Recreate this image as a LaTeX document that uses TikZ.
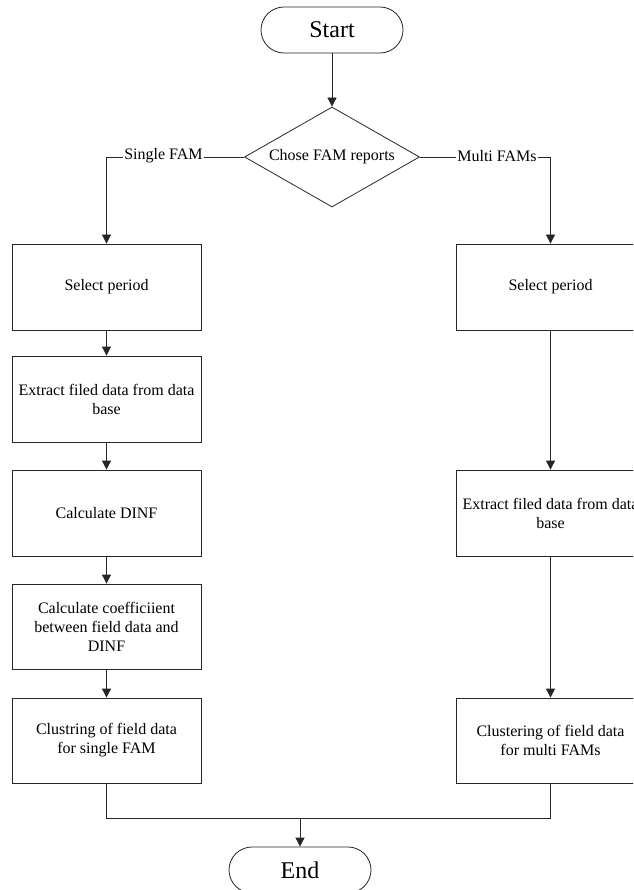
\documentclass[tikz,border=0pt]{standalone}
\usepackage{fontspec}
\setmainfont{Liberation Serif}
\usetikzlibrary{shapes.geometric,arrows.meta,calc}

\tikzset{
  flow/.style={draw=black!85, line width=0.8pt},
  arr/.style={flow, -{Triangle[length=9pt,width=9pt]}},
  procbox/.style={draw=black!85, line width=0.8pt, rectangle, minimum width=189pt,
    minimum height=86pt, inner sep=0pt, align=center,
    font=\fontsize{16}{19}\selectfont},
  termbox/.style={draw=black!85, line width=0.8pt, rectangle, rounded corners=23pt,
    minimum width=142pt, minimum height=46pt, inner sep=0pt,
    font=\fontsize{24}{28}\selectfont},
  decbox/.style={draw=black!85, line width=0.8pt, diamond, aspect=1.75,
    minimum width=175pt, minimum height=100pt, inner sep=0pt,
    font=\fontsize{16}{19}\selectfont},
  branchlbl/.style={fill=white, inner sep=1pt, font=\fontsize{16}{19}\selectfont}
}

\begin{document}
\begin{tikzpicture}[x=1pt, y=-1pt]
\useasboundingbox (0,0) rectangle (633,890);
\clip (0,0) rectangle (633,890);

% terminators and decision
\node[termbox] (start) at (332,30) {Start};
\node[decbox] (choose) at (332,157) {Chose FAM reports};
\node[termbox] (finish) at (300,870) {End};

% single FAM branch
\node[procbox] (s1) at (106.5,287) {Select period};
\node[procbox] (s2) at (106.5,399) {Extract filed data from data\\base};
\node[procbox] (s3) at (106.5,513) {Calculate DINF};
\node[procbox, minimum height=85pt] (s4) at (106.5,626.5) {Calculate coefficiient\\between field data and\\DINF};
\node[procbox, minimum height=85pt] (s5) at (106.5,740.5) {Clustring of field data\\for single FAM};

% multi FAMs branch
\node[procbox] (m1) at (550.5,287) {Select period};
\node[procbox] (m2) at (550.5,513) {Extract filed data from data\\base};
\node[procbox, minimum height=85pt] (m5) at (550.5,740.5) {Clustering of field data\\for multi FAMs};

% corner points
\coordinate (lc) at (s1.north |- choose.west);
\coordinate (rc) at (m1.north |- choose.east);
\coordinate (mergeL) at ($(s5.south)+(0,35)$);
\coordinate (mergeR) at (m5.south |- mergeL);
\coordinate (mergeM) at (finish.north |- mergeL);

\draw[arr] (start) -- (choose);
\draw[arr] (choose.west) -- (lc) -- (s1.north);
\draw[arr] (choose.east) -- (rc) -- (m1.north);
\node[branchlbl] at (163.5,156) {Single FAM};
\node[branchlbl] at (497,156) {Multi FAMs};

\draw[arr] (s1) -- (s2);
\draw[arr] (s2) -- (s3);
\draw[arr] (s3) -- (s4);
\draw[arr] (s4) -- (s5);

\draw[arr] (m1) -- (m2);
\draw[arr] (m2) -- (m5);

\draw[flow] (s5.south) -- (mergeL) -- (mergeR) -- (m5.south);
\draw[arr] (mergeM) -- (finish.north);
\end{tikzpicture}
\end{document}
